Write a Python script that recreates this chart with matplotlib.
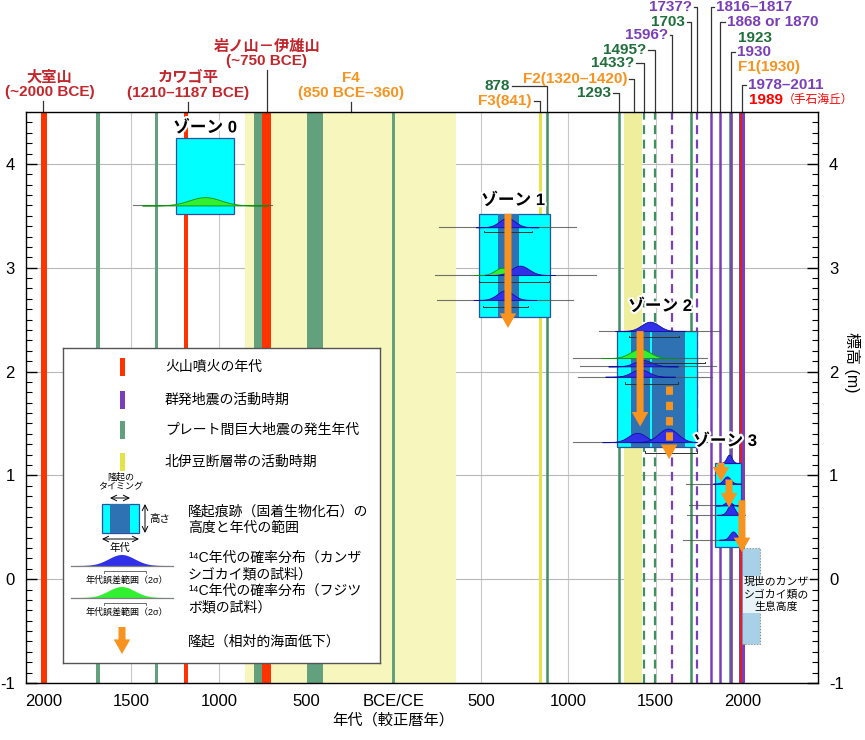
import matplotlib
matplotlib.use("Agg")
import matplotlib.pyplot as plt
import matplotlib.patheffects as pe
from matplotlib.patches import Rectangle, FancyArrowPatch
import numpy as np

plt.rcParams['font.family'] = ['Liberation Sans', 'Noto Sans CJK JP', 'DejaVu Sans']
plt.rcParams['axes.unicode_minus'] = False

# colours
RED = '#ff3300'
PURPLE = '#7a3fb8'
GREEN_BAND = '#62a07e'
GREEN_LINE = '#3f8f60'
YELLOW_BAND = '#f6f6bd'
YELLOW_LINE = '#e4e44a'
ORANGE = '#f7931e'
CYAN = '#00ffff'
DARK = '#2f72b3'
BLUE = '#3030e8'
LGREEN = '#30f030'

# event data (years, BCE negative)
volcanic_spans = [(-2020, -1980), (-1200, -1177), (-750, -700)]
volcanic_line = 1989
swarm_lines = [1816.5, 1869, 1930]
swarm_dashed = [1596, 1737]
swarm_span = (1978, 2011)
plate_spans = [(-1700, -1680), (-1365, -1345), (-800, -750), (-495, -405), (-10, 10)]
plate_lines = [878, 1293, 1703, 1923]
plate_dashed = [1433, 1495]
fault_spans = [(-850, 360), (1320, 1420)]
fault_lines = [841, 1930]

# zones: box (x0, x1, y0, y1)
zone_boxes = [(-1245, -913, 3.52, 4.25), (489, 896, 2.53, 3.52),
              (1279, 1737, 1.27, 2.39), (1840, 1989, 0.31, 1.12)]
zone_bands = [(598, 718), (1359, 1470), (1480, 1668)]
zone_names = ['ゾーン 0', 'ゾーン 1', 'ゾーン 2', 'ゾーン 3']
zone_label_pos = [(-1079, 4.35), (684, 3.65), (1525, 2.63), (1897, 1.33)]

# 14C distributions: baseline, centre, sigma, peak, type, line start, line end
dists = [
    (3.60, -1079, 90, 0.08, 'g', -1491, -695),
    (3.39, 650, 45, 0.09, 'b', 260, 1044),
    (2.93, 621, 40, 0.07, 'g', 237, 1159),
    (2.93, 724, 50, 0.09, 'b', None, None),
    (2.69, 638, 45, 0.09, 'b', 249, 1027),
    (2.39, 1468, 50, 0.09, 'b', 1176, 1868),
    (2.13, 1411, 55, 0.09, 'g', 1027, 1794),
    (2.05, 1428, 50, 0.06, 'b', 1067, 1846),
    (1.95, 1411, 50, 0.07, 'b', 1056, 1823),
    (1.32, 1394, 50, 0.09, 'b', 1027, 1794),
    (1.32, 1571, 55, 0.13, 'b', None, None),
    (1.12, 1920, 15, 0.08, 'b', None, None),
    (0.92, 1908, 20, 0.07, 'b', 1674, 1990),
    (0.71, 1915, 18, 0.04, 'b', 1690, 1990),
    (0.62, 1931, 20, 0.10, 'b', 1680, 1990),
    (0.38, 1943, 20, 0.08, 'b', 1657, 1990),
]
brackets = [(3.34, 518, 793), (2.86, 489, 890), (2.62, 512, 770), (2.33, 1348, 1634),
            (2.08, 1388, 1783), (1.88, 1325, 1628), (1.22, 1439, 1737)]

# uplift arrows: x, y start, y end
arrows = [(655, 3.52, 2.42), (1411, 2.39, 1.47), (1874, 1.12, 0.94),
          (1920, 0.96, 0.69), (1994, 0.76, 0.26)]
arrows_dashed = [(1577, 1.86, 1.13)]

modern_box = (1994, 2097, -0.62, 0.30)

xticks = [-2000, -1500, -1000, -500, 0, 500, 1000, 1500, 2000]
xtick_labels = ['2000', '1500', '1000', '500', 'BCE/CE', '500', '1000', '1500', '2000']

fig = plt.figure(figsize=(8.65, 7.4), dpi=100)
ax = fig.add_axes([26 / 865, 57 / 740, 792 / 865, 571 / 740])
ax.set_xlim(-2103, 2429)
ax.set_ylim(-1, 4.5)

for v in xticks:
    ax.axvline(v, color='#c8c8c8', lw=0.8, zorder=0)
for v in range(-1, 5):
    ax.axhline(v, color='#b8b8b8', lw=0.8, zorder=0)

for a, b in fault_spans:
    ax.axvspan(a, b, color=YELLOW_BAND, lw=0, zorder=0.5)
ax.axvspan(1320, 1420, color='#eeee9c', lw=0, zorder=0.6)
for v in fault_lines:
    ax.axvline(v, color=YELLOW_LINE, lw=2.2, zorder=1)
for a, b in plate_spans:
    ax.axvspan(a, b, color=GREEN_BAND, lw=0, zorder=1)
for v in plate_lines:
    ax.axvline(v, color=GREEN_LINE, lw=1.8, zorder=1.1)
for v in plate_dashed:
    ax.axvline(v, color=GREEN_LINE, lw=1.6, ls=(0, (4, 2.5)), zorder=1.1)
for a, b in volcanic_spans:
    ax.axvspan(a, b, color=RED, lw=0, zorder=1.2)
ax.axvspan(*swarm_span, color=PURPLE, lw=0, zorder=1.2)
for v in swarm_lines:
    ax.axvline(v, color=PURPLE, lw=1.8, zorder=1.2)
for v in swarm_dashed:
    ax.axvline(v, color=PURPLE, lw=1.6, ls=(0, (4, 2.5)), zorder=1.2)
ax.axvline(volcanic_line, color='#e02020', lw=1.4, zorder=1.3)

# zones
for x0, x1, y0, y1 in zone_boxes:
    ax.add_patch(Rectangle((x0, y0), x1 - x0, y1 - y0, facecolor=CYAN,
                           edgecolor='#2f4f9f', lw=0.9, zorder=3))
for a, b in zone_bands:
    box = [z for z in zone_boxes if z[0] <= a and z[1] >= b][0]
    ax.add_patch(Rectangle((a, box[2]), b - a, box[3] - box[2], facecolor=DARK,
                           lw=0, zorder=3.1))

for base, c, s, h, kind, l0, l1 in dists:
    if l0 is not None:
        ax.plot([l0, l1], [base, base], color='#505050', lw=0.8, alpha=0.8, zorder=3.3)
    xs = np.linspace(c - 4 * s, c + 4 * s, 200)
    ys = base + h * np.exp(-0.5 * ((xs - c) / s) ** 2)
    fc = BLUE if kind == 'b' else LGREEN
    ec = '#1010a0' if kind == 'b' else '#109010'
    ax.fill_between(xs, base, ys, facecolor=fc, edgecolor=ec, lw=0.6, zorder=3.4)

for y, a, b in brackets:
    ax.plot([a, a, b, b], [y + 0.015, y, y, y + 0.015], color='#303030', lw=0.7, zorder=3.5)

def uplift_arrow(x, y0, y1, dashed=False):
    if dashed:
        ax.plot([x, x], [y0, y1 + 0.12], color=ORANGE, lw=5, ls=(0, (1.2, 1.0)),
                solid_capstyle='butt', zorder=4)
        ax.add_patch(FancyArrowPatch((x, y1 + 0.13), (x, y1), arrowstyle='simple,head_length=0.75,head_width=0.85,tail_width=0.01',
                                     mutation_scale=14, color=ORANGE, lw=0, zorder=4))
    else:
        ax.add_patch(FancyArrowPatch((x, y0), (x, y1), arrowstyle='simple,head_length=0.75,head_width=0.85,tail_width=0.36',
                                     mutation_scale=14, color=ORANGE, lw=0, zorder=4,
                                     shrinkA=0, shrinkB=0))

for x, y0, y1 in arrows:
    uplift_arrow(x, y0, y1)
for x, y0, y1 in arrows_dashed:
    uplift_arrow(x, y0, y1, dashed=True)

stroke = [pe.withStroke(linewidth=3, foreground='white')]
for name, (x, y) in zip(zone_names, zone_label_pos):
    ax.text(x, y, name, ha='center', va='center', fontsize=12, fontweight='bold',
            path_effects=stroke, zorder=5)

# modern habitat
mx0, mx1, my0, my1 = modern_box
ax.add_patch(Rectangle((mx0, my0), mx1 - mx0, my1 - my0, facecolor='#a8d0e6',
                       edgecolor='#888888', lw=0.8, ls=':', zorder=2))
ax.text(2190, -0.15, '現世のカンザ\nシゴカイ類の\n生息高度', ha='center', va='center',
        fontsize=7.8, linespacing=1.3, zorder=5,
        bbox=dict(facecolor='white', edgecolor='none', alpha=0.75, pad=0.5))

# axes styling
ax.set_xticks(xticks)
ax.set_xticklabels(xtick_labels, fontsize=12)
ax.tick_params(axis='x', length=0, pad=8)
ax.set_yticks(range(-1, 5))
ax.set_yticks(np.arange(-1, 4.5, 0.1), minor=True)
ax.tick_params(axis='y', which='both', direction='in', left=True, right=True,
               labelleft=True, labelright=True, labelsize=12, pad=8)
ax.tick_params(axis='y', which='major', length=8, width=1)
ax.tick_params(axis='y', which='minor', length=4, width=0.8)
for sp in ax.spines.values():
    sp.set_linewidth(1.0)

trans = ax.get_xaxis_transform()
ax.text(0, -0.052, '年代（較正暦年）', transform=trans, ha='center', va='top', fontsize=11)
fig.text(852 / 865, 1 - 362 / 740, '標高 (m)', rotation=-90, ha='center', va='center', fontsize=11.5)

# top labels
DRED = '#c1272d'
DGREEN = '#1f6e3c'
def fy(py):
    return (683 - py) / 571

# text, colour, leader x, text x, text bottom (px)
centre_labels = [
    ('大室山\n(~2000 BCE)', DRED, -2006, -1968, 101),
    ('カワゴ平\n(1210–1187 BCE)', DRED, -1176, -1176, 102),
    ('岩ノ山－伊雄山\n(~750 BCE)', DRED, -724, -724, 70),
    ('F4\n(850 BCE–360)', ORANGE, -243, -243, 102),
]
for txt, col, x, tx, py in centre_labels:
    ax.plot([x, x], [1, fy(py)], transform=trans, clip_on=False, color='#333333', lw=0.9)
    ax.text(tx, fy(py - 2), txt, transform=trans, ha='center', va='bottom', color=col,
            fontsize=11, fontweight='bold', linespacing=1.05)

elbow_labels = [
    ('F3(841)', ORANGE, 841, 804, 101, 'r'),
    ('878', DGREEN, 878, 678, 86, 'r'),
    ('1293', DGREEN, 1293, 1256, 93, 'r'),
    ('F2(1320–1420)', ORANGE, 1376, 1348, 79, 'r'),
    ('1433?', DGREEN, 1433, 1388, 63, 'r'),
    ('1495?', DGREEN, 1495, 1456, 50, 'r'),
    ('1596?', PURPLE, 1596, 1582, 35, 'r'),
    ('1703', DGREEN, 1703, 1680, 22, 'r'),
    ('1737?', PURPLE, 1737, 1720, 7, 'r'),
    ('1816–1817', PURPLE, 1816, 1834, 7, 'l'),
    ('1868 or 1870', PURPLE, 1869, 1897, 22, 'l'),
    ('1930', PURPLE, 1930, 1954, 52, 'l'),
    ('1978–2011', PURPLE, 1995, 2017, 85, 'l'),
]
for txt, col, ex, tx, py, side in elbow_labels:
    y = fy(py)
    ax.plot([ex, ex, tx], [1, y, y], transform=trans, clip_on=False, color='#333333', lw=0.9)
    ax.annotate(txt, xy=(tx, y), xycoords=trans, xytext=(-1.5 if side == 'r' else 1.5, 0),
                textcoords='offset points', ha='right' if side == 'r' else 'left',
                va='center', color=col, fontsize=11, fontweight='bold')

free_labels = [('1923', DGREEN, 1971, 38), ('F1(1930)', ORANGE, 1971, 67)]
for txt, col, x, py in free_labels:
    ax.text(x, fy(py), txt, transform=trans, ha='left', va='center', color=col,
            fontsize=11, fontweight='bold')
t1989 = ax.text(2034, fy(100), '1989', transform=trans, ha='left', va='center',
                color='#ff0000', fontsize=11, fontweight='bold')
ax.annotate('（手石海丘）', xy=(1, 0.5), xycoords=t1989, ha='left', va='center',
            color='#ff0000', fontsize=8.5)

# legend panel (local pixel coordinates)
lg = fig.add_axes([63 / 865, 1 - 663 / 740, 317 / 865, 315 / 740])
lg.set_xlim(0, 317)
lg.set_ylim(315, 0)
lg.set_xticks([])
lg.set_yticks([])
lg.set_facecolor('white')
for sp in lg.spines.values():
    sp.set_color('#555555')
    sp.set_linewidth(1.0)

legend_colors = [RED, PURPLE, GREEN_BAND, YELLOW_LINE]
legend_texts = ['火山噴火の年代', '群発地震の活動時期', 'プレート間巨大地震の発生年代', '北伊豆断層帯の活動時期']
legend_rows = [19, 52, 82, 114]
for col, txt, ry in zip(legend_colors, legend_texts, legend_rows):
    lg.add_patch(Rectangle((57, ry - 9), 5, 18, facecolor=col, edgecolor='none'))
    lg.text(102, ry, txt, ha='left', va='center', fontsize=10)

lg.add_patch(Rectangle((39, 156), 37, 29, facecolor=CYAN, edgecolor='#2f4f9f', lw=0.9))
lg.add_patch(Rectangle((47, 156), 20, 29, facecolor=DARK, lw=0))
lg.text(58, 143, '隆起の\nタイミング', ha='center', va='bottom', fontsize=6.5, linespacing=1.0)
lg.annotate('', xy=(47, 150), xytext=(67, 150), arrowprops=dict(arrowstyle='<->', lw=0.7, shrinkA=0, shrinkB=0))
lg.annotate('', xy=(82, 156), xytext=(82, 185), arrowprops=dict(arrowstyle='<->', lw=0.7, shrinkA=0, shrinkB=0))
lg.annotate('', xy=(39, 191), xytext=(76, 191), arrowprops=dict(arrowstyle='<->', lw=0.7, shrinkA=0, shrinkB=0))
lg.text(86, 171, '高さ', ha='left', va='center', fontsize=7.5)
lg.text(57, 200, '年代', ha='center', va='center', fontsize=7.5)
lg.text(125, 172, '隆起痕跡（固着生物化石）の\n高度と年代の範囲', ha='left', va='center', fontsize=10, linespacing=1.2)

for base, kind in [(218, 'b'), (250, 'g')]:
    xs = np.linspace(10, 110, 200)
    ys = base - 11 * np.exp(-0.5 * ((xs - 59) / 13) ** 2)
    lg.plot([8, 110], [base, base], color='#808080', lw=0.9)
    lg.fill_between(xs, base, ys, facecolor=BLUE if kind == 'b' else LGREEN, lw=0)
    lg.plot([41, 41, 83, 83], [base + 7, base + 5, base + 5, base + 7], color='#555555', lw=0.6)
    lg.text(64, base + 14, '年代誤差範囲（2σ）', ha='center', va='center', fontsize=6.5)
lg.text(125, 218, '¹⁴C年代の確率分布（カンザ\nシゴカイ類の試料）', ha='left', va='center', fontsize=10, linespacing=1.2)
lg.text(125, 251, '¹⁴C年代の確率分布（フジツ\nボ類の試料）', ha='left', va='center', fontsize=10, linespacing=1.2)
lg.add_patch(FancyArrowPatch((59, 279), (59, 306), arrowstyle='simple,head_length=0.75,head_width=0.85,tail_width=0.36',
                             mutation_scale=14, color=ORANGE, lw=0, shrinkA=0, shrinkB=0))
lg.text(125, 294, '隆起（相対的海面低下）', ha='left', va='center', fontsize=10)

fig.savefig('out.png', dpi=100)
plt.close(fig)
